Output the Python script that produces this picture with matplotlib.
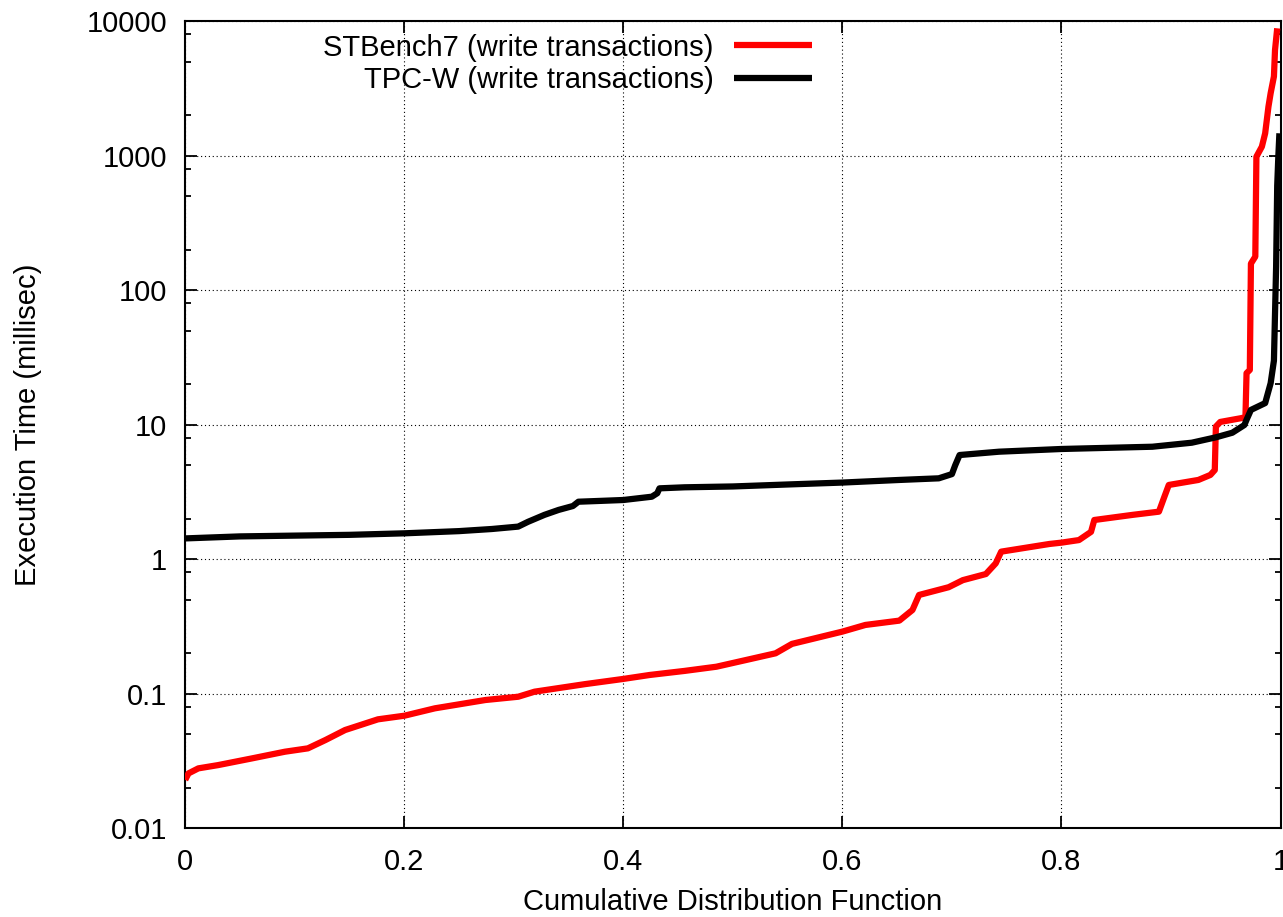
import matplotlib
matplotlib.use("Agg")
import matplotlib.pyplot as plt
from matplotlib.ticker import LogLocator, FixedLocator, FixedFormatter, NullFormatter

# ---- data ----
stbench_cdf = [0, 0.003, 0.012, 0.030, 0.061, 0.091, 0.112, 0.128, 0.146, 0.176, 0.2, 0.228,
               0.274, 0.304, 0.319, 0.365, 0.4, 0.424, 0.456, 0.485, 0.539, 0.554, 0.6, 0.621,
               0.652, 0.664, 0.67, 0.697, 0.71, 0.731, 0.74, 0.745, 0.789, 0.8, 0.816, 0.827,
               0.83, 0.865, 0.889, 0.894, 0.898, 0.925, 0.936, 0.94, 0.941, 0.945, 0.964, 0.968,
               0.969, 0.972, 0.973, 0.977, 0.978, 0.983, 0.986, 0.989, 0.991, 0.994, 0.995, 0.997]
stbench_ms = [0.0229, 0.0256, 0.0279, 0.0295, 0.0331, 0.0371, 0.0393, 0.0453, 0.0538, 0.0646,
              0.0687, 0.078, 0.0899, 0.0951, 0.1037, 0.118, 0.129, 0.138, 0.148, 0.159, 0.2,
              0.235, 0.29, 0.325, 0.35, 0.42, 0.543, 0.62, 0.70, 0.777, 0.933, 1.14, 1.3, 1.33,
              1.39, 1.60, 1.96, 2.14, 2.26, 2.92, 3.57, 3.89, 4.24, 4.61, 9.7, 10.5, 11.2, 11.4,
              24.2, 25.6, 158, 178, 985, 1170, 1470, 2320, 2920, 3890, 6120, 8870]

tpcw_cdf = [0, 0.05, 0.1, 0.15, 0.2, 0.25, 0.28, 0.304, 0.313, 0.328, 0.341, 0.354, 0.359,
            0.38, 0.4, 0.426, 0.431, 0.433, 0.456, 0.5, 0.55, 0.6, 0.652, 0.688, 0.700, 0.703,
            0.707, 0.743, 0.8, 0.883, 0.919, 0.941, 0.956, 0.967, 0.969, 0.973, 0.986, 0.991,
            0.994, 0.996, 0.997, 0.998, 0.999]
tpcw_ms = [1.43, 1.48, 1.50, 1.52, 1.56, 1.62, 1.68, 1.75, 1.90, 2.14, 2.33, 2.49, 2.68,
           2.72, 2.76, 2.92, 3.1, 3.37, 3.43, 3.48, 3.6, 3.72, 3.89, 4.0, 4.3, 5.0,
           5.96, 6.31, 6.61, 6.87, 7.36, 8.07, 8.73, 9.96, 10.9, 12.9, 14.5, 20.4,
           30, 150, 600, 980, 1470]

labels = ["STBench7 (write transactions)", "TPC-W (write transactions)"]
x_ticks = [0, 0.2, 0.4, 0.6, 0.8, 1]
x_ticklabels = ["0", "0.2", "0.4", "0.6", "0.8", "1"]
y_ticks = [0.01, 0.1, 1, 10, 100, 1000, 10000]
y_ticklabels = ["0.01", "0.1", "1", "10", "100", "1000", "10000"]

plt.rcParams['font.family'] = ['Liberation Sans', 'DejaVu Sans']
FS = 21

fig = plt.figure(figsize=(12.83, 9.17), dpi=100)
ax = fig.add_axes([185.2 / 1283, 1 - 828.3 / 917, (1280.5 - 185.2) / 1283, (828.3 - 21.3) / 917])

ax.plot(stbench_cdf, stbench_ms, color='#ff0000', lw=4.5, label=labels[0],
        solid_joinstyle='round', solid_capstyle='butt', zorder=3)
ax.plot(tpcw_cdf, tpcw_ms, color='black', lw=4.5, label=labels[1],
        solid_joinstyle='round', solid_capstyle='butt', zorder=3)

ax.set_yscale('log')
ax.set_xlim(0, 1)
ax.set_ylim(0.01, 10000)

ax.xaxis.set_major_locator(FixedLocator(x_ticks))
ax.xaxis.set_major_formatter(FixedFormatter(x_ticklabels))
ax.yaxis.set_major_locator(FixedLocator(y_ticks))
ax.yaxis.set_major_formatter(FixedFormatter(y_ticklabels))
ax.yaxis.set_minor_locator(LogLocator(base=10, subs=[2, 5, 8], numticks=20))
ax.yaxis.set_minor_formatter(NullFormatter())

ax.tick_params(which='both', direction='in', top=True, right=True, labelsize=FS, color='black')
ax.tick_params(which='major', length=8.5, width=1.3, pad=14)
ax.tick_params(which='minor', length=4.5, width=1.3)
ax.tick_params(axis='y', which='major', pad=13)

for s in ax.spines.values():
    s.set_linewidth(1.5)

ax.grid(True, which='major', color='black', linestyle=(0, (1, 2.5)), linewidth=0.8)

ax.set_xlabel("Cumulative Distribution Function", fontsize=FS, labelpad=9)
ax.set_ylabel("Execution Time (millisec)", fontsize=FS, labelpad=32)

leg = ax.legend(loc='upper right', bbox_to_anchor=(0.578, 0.992), frameon=False,
                markerfirst=False, fontsize=FS, handlelength=2.7, handletextpad=0.7,
                labelspacing=0.15, borderaxespad=0.0, borderpad=0.2)

fig.savefig("out.png", dpi=100)
